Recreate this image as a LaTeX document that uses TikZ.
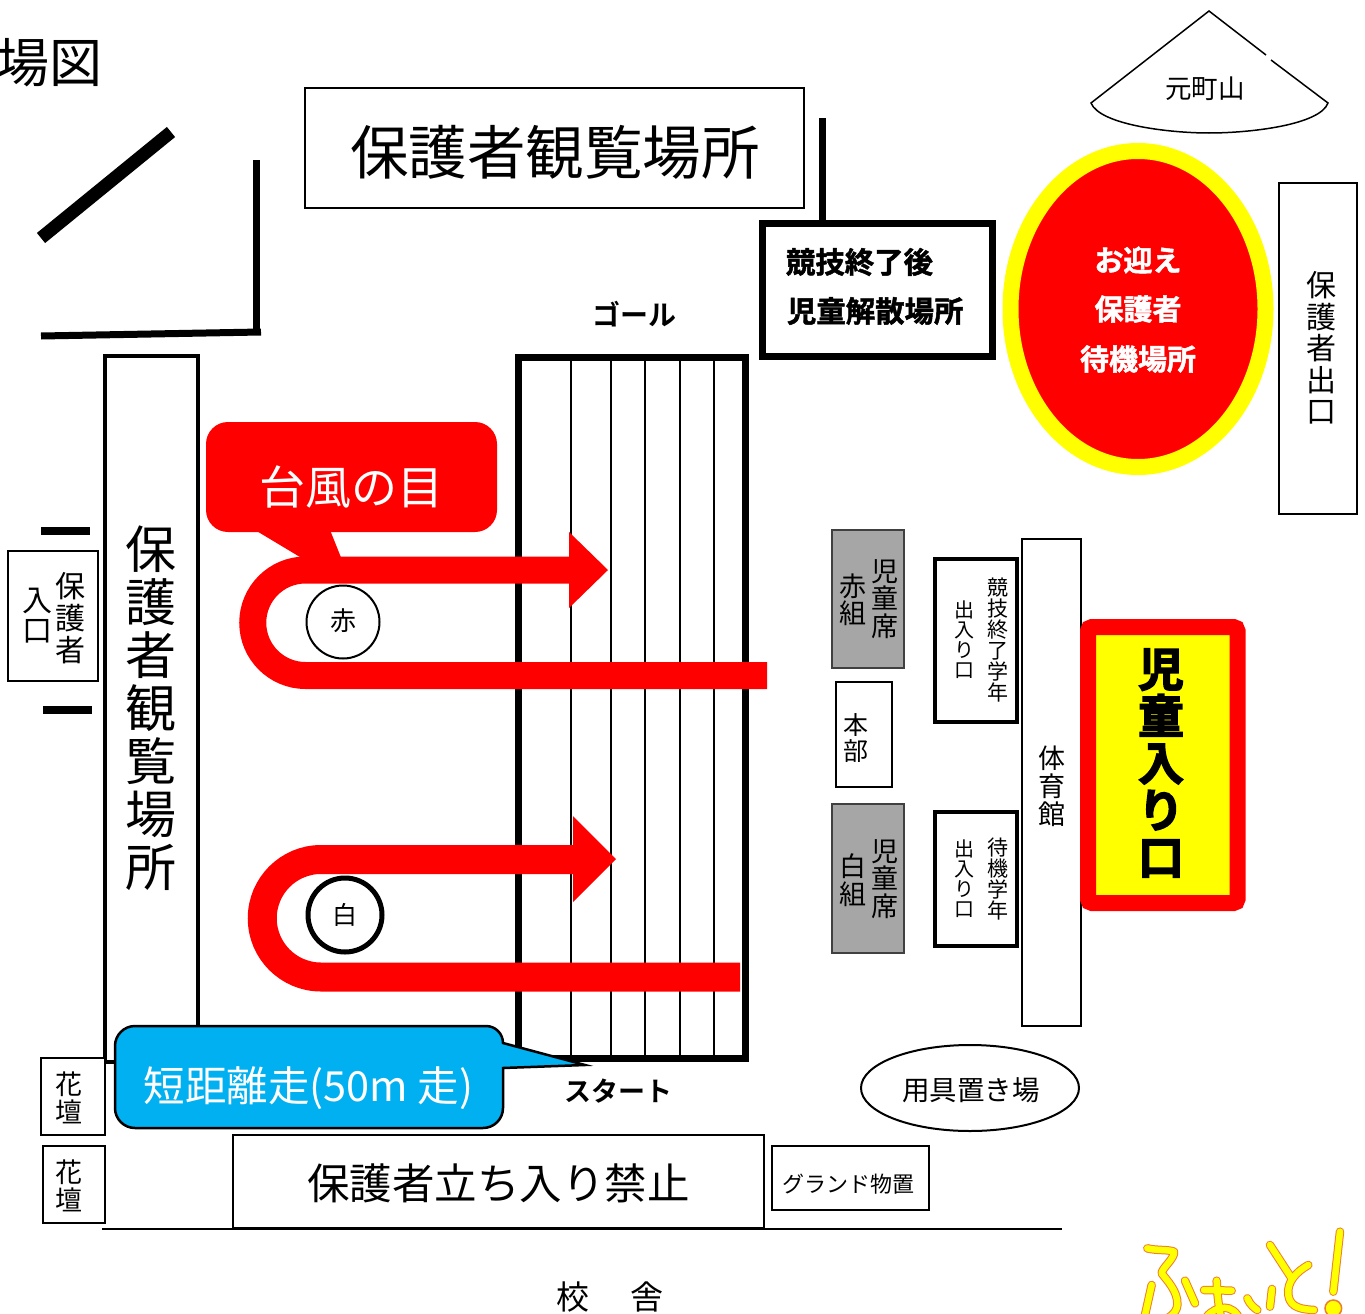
\documentclass[tikz,border=0pt]{standalone}
\usepackage{fontspec}
\setmainfont{Noto Sans CJK JP}
\newfontfamily\heavy[FakeBold=1.6]{Noto Sans CJK JP Bold}
\newfontfamily\heavier[FakeBold=3]{Noto Sans CJK JP Bold}
\newfontfamily\semib{Noto Sans CJK JP Bold}
\newcommand{\jf}[2]{\fontsize{#1}{#2}\selectfont}
\definecolor{cblue}{HTML}{00B0F0}
\definecolor{cgray}{HTML}{A6A6A6}
\definecolor{cgrayline}{HTML}{404040}
\definecolor{cfaint}{HTML}{ED7D31}
\definecolor{cyel}{RGB}{255,255,0}
\definecolor{cred}{RGB}{255,0,0}
\tikzset{
  box/.style={draw=black,line width=2pt,fill=white},
  lab/.style={inner sep=0pt,outer sep=0pt,align=center},
  bar/.style={draw=black,line cap=butt},
  band/.style={draw=cred,line width=27pt,line cap=butt},
  tip/.style={fill=cred,draw=none},
  hand/.style={line cap=round,line join=round}
}
\begin{document}
\begin{tikzpicture}[x=1pt,y=-1pt]
\useasboundingbox (0,0) rectangle (1365,1314);
\clip (0,0) rectangle (1365,1314);
% title
\node[lab,font=\jf{53}{53},anchor=east] (title) at (103,63) {場図};
% top box
\draw[box] (305,88) rectangle (804,208);
\node[lab,font=\jf{58.5}{58.5}] (top) at (555,152) {保護者観覧場所};
\draw[bar,line width=13pt] (41,238) -- (171,132);
\draw[bar,line width=7pt] (256,160) -- (256,330);
\draw[bar,line width=7pt] (41,336) -- (261,332);
\draw[bar,line width=7pt] (822.5,118) -- (822.5,222);
% dismissal box
\draw[box,line width=7pt] (762,223) rectangle (992.5,356);
\node[lab,font=\heavy\jf{29.4}{30},anchor=west] (d1) at (786,262) {競技終了後};
\node[lab,font=\heavy\jf{29.4}{30},anchor=west] (d2) at (787,311) {児童解散場所};
\node[lab,font=\semib\jf{28}{28}] (goal) at (634,314) {ゴール};
% track
\draw[draw=black,line width=7pt] (518,357) rectangle (745.5,1058);
\foreach \x in {571,611,645,680,714} \draw[black,line width=1.6pt] (\x,357) -- (\x,1058);
% mountain
\draw[black,line width=1.5pt] (1266,55) -- (1209,11) -- (1091,103) .. controls (1100,125) and (1170,133) .. (1209,133) .. controls (1250,133) and (1320,125) .. (1328,103) -- (1271,60);
\node[lab,font=\jf{26.5}{26}] (mt) at (1205,89) {元町山};
% pick-up ellipse
\draw[draw=cyel,fill=cred,line width=16pt] (1138,309) ellipse [x radius=127.5,y radius=158];
\node[lab,font=\heavy\jf{29}{29},text=white] (p1) at (1138,260) {お迎え};
\node[lab,font=\heavy\jf{29}{29},text=white] (p2) at (1138,309) {保護者};
\node[lab,font=\heavy\jf{29}{29},text=white] (p3) at (1138,359) {待機場所};
% exit
\draw[box] (1279,183) rectangle (1357,514);
\node[lab,font=\jf{30}{31.5}] (ex) at (1321,348) {保\\護\\者\\出\\口};
% left box
\draw[box,line width=4pt] (105,356) rectangle (198,1062);
\node[lab,font=\jf{51}{53}] (lb) at (150.5,708) {保\\護\\者\\観\\覧\\場\\所};
% guardian entrance
\draw[box] (8,551) rectangle (98,681);
\node[lab,font=\jf{30}{32}] (g1) at (70,618) {保\\護\\者};
\node[lab,font=\jf{30}{30}] (g2) at (38,616) {入\\口};
\draw[bar,line width=8pt] (41,531) -- (90,531);
\draw[bar,line width=8pt] (43,710) -- (92,710);
% red arrows
\draw[band] (767,675.5) -- (305.5,675.5) arc[start angle=90,end angle=270,radius=52.75] -- (575,570);
\fill[tip] (569,532) -- (608,570) -- (569,608) -- cycle;
\draw[band,line width=29pt] (740,977) -- (321,977) arc[start angle=90,end angle=270,radius=58.75] -- (578,859.5);
\fill[tip] (573,816) -- (616,859) -- (573,902) -- cycle;
% red callout
\fill[cred,rounded corners=22pt] (206,422) rectangle (497,532);
\fill[cred] (255,530) -- (305,560) -- (342,560) -- (330,530) -- cycle;
\node[lab,font=\jf{46}{45},text=white] (typh) at (351,487) {台風の目};
% start circles
\draw[box] (343,622) circle [radius=36.5];
\node[lab,font=\jf{26}{26}] (aka) at (343,621) {赤};
\draw[box,line width=5pt] (345,915) circle [radius=37];
\node[lab,font=\jf{25}{25}] (shiro) at (345,915) {白};
% seats
\draw[box,fill=cgray,draw=cgrayline] (832,530) rectangle (904,668);
\node[lab,font=\jf{27}{27.5}] (s1) at (885,599) {児\\童\\席};
\node[lab,font=\jf{27}{27.5}] (s2) at (853,600) {赤\\組};
\draw[box,draw=black] (836,682) rectangle (892,787);
\node[lab,font=\jf{25}{25.5}] (hq) at (855.5,738) {本\\部};
\draw[box,fill=cgray,draw=cgrayline] (832,804) rectangle (904,953);
\node[lab,font=\jf{27}{27.5}] (s3) at (885,879) {児\\童\\席};
\node[lab,font=\jf{27}{27.5}] (s4) at (853,880) {白\\組};
% gates
\draw[box,line width=4pt] (935,559) rectangle (1017,722);
\node[lab,font=\jf{21}{21}] (e1) at (998,640) {競\\技\\終\\了\\学\\年};
\node[lab,font=\jf{20}{20}] (e2) at (964,640) {出\\入\\り\\口};
\draw[box,line width=4pt] (935,812) rectangle (1017,946);
\node[lab,font=\jf{21}{21}] (e3) at (998,879) {待\\機\\学\\年};
\node[lab,font=\jf{20}{20}] (e4) at (964,879) {出\\入\\り\\口};
% gym
\draw[box] (1022,539) rectangle (1081,1026);
\node[lab,font=\jf{27}{28}] (gym) at (1052,786) {体\\育\\館};
% children entrance
\draw[draw=cred,fill=cyel,line width=16pt,rounded corners=4pt] (1088,627) rectangle (1237.5,903);
\node[lab,font=\heavier\jf{46}{47}] (kids) at (1161,763) {児\\童\\入\\り\\口};
% equipment
\draw[box] (970,1088) ellipse [x radius=109,y radius=43];
\node[lab,font=\jf{27.5}{27.5}] (eq) at (971,1090) {用具置き場};
\node[lab,font=\semib\jf{27}{27}] (st) at (618,1091) {スタート};
% blue callout
\draw[draw=black,line width=2.5pt,fill=cblue,line join=miter] (135,1026) -- (486,1026) arc[start angle=-90,end angle=0,radius=17] -- (503,1043) -- (585,1065) -- (503,1068) -- (503,1108) arc[start angle=0,end angle=90,radius=20] -- (135,1128) arc[start angle=90,end angle=180,radius=20] -- (115,1046) arc[start angle=180,end angle=270,radius=20] -- cycle;
\node[lab,font=\jf{41.5}{40},text=white] (run) at (308.5,1088) {短距離走(50m 走)};
% lower
\draw[box,line width=2.5pt] (233,1135) rectangle (764,1228);
\node[lab,font=\jf{42.5}{42.5}] (noentry) at (498.5,1183) {保護者立ち入り禁止};
\draw[black,line width=1.5pt] (102,1229) -- (1062,1229);
\draw[box,line width=1.5pt] (772,1146) rectangle (929,1210);
\node[lab,font=\jf{22}{22}] (shed) at (848,1184) {グランド物置};
\draw[box,line width=1.5pt] (41,1058) rectangle (105,1135);
\node[lab,font=\jf{27}{28}] (f1) at (68.5,1098) {花\\壇};
\draw[box,line width=1.5pt] (43,1146) rectangle (105,1223);
\node[lab,font=\jf{27}{28}] (f2) at (68.5,1186) {花\\壇};
\node[lab,font=\jf{33}{33},anchor=west] (school) at (556,1297) {校\hspace{42pt}舎};
% hand lettering
\begin{scope}[shift={(1100,1220)},x=0.3333pt,y=-0.3333pt]
\foreach \w/\c in {8.5pt/cfaint,6.5pt/cyel}{
\draw[hand,draw=\c,line width=\w] (142,85) .. controls (170,92) and (205,88) .. (222,95) .. controls (225,115) and (185,145) .. (185,160) .. controls (200,180) and (235,215) .. (232,255) .. controls (230,280) and (205,295) .. (190,300);
\draw[hand,draw=\c,line width=\w] (155,195) -- (135,285);
\draw[hand,draw=\c,line width=\w] (255,182) -- (285,250);
\draw[hand,draw=\c,line width=\w] (312,210) -- (395,212);
\draw[hand,draw=\c,line width=\w] (350,182) .. controls (352,220) and (355,260) .. (365,300);
\draw[hand,draw=\c,line width=\w] (320,290) .. controls (350,255) and (400,250) .. (420,300);
\draw[hand,draw=\c,line width=\w] (442,235) .. controls (450,255) and (465,265) .. (472,270);
\draw[hand,draw=\c,line width=\w] (516,207) -- (510,260);
\draw[hand,draw=\c,line width=\w] (510,75) -- (575,175);
\draw[hand,draw=\c,line width=\w] (625,135) .. controls (590,155) and (560,185) .. (565,225) .. controls (570,265) and (610,268) .. (642,270);
\draw[hand,draw=\c,line width=\w] (720,35) -- (700,215);
}
\draw[draw=cfaint,fill=cyel,line width=1.5pt] (700,265) circle [radius=25];
\end{scope}
\end{tikzpicture}
\end{document}
